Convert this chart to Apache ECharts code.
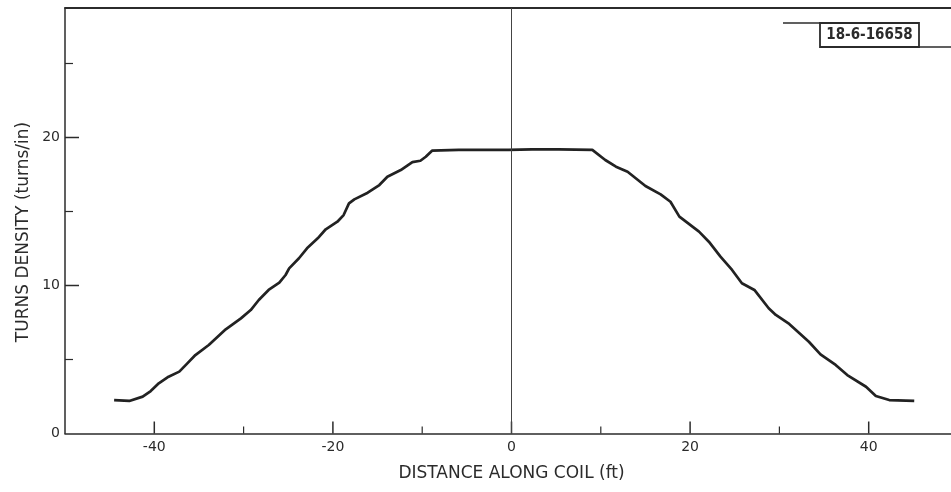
<!DOCTYPE html>
<html>
<head>
<meta charset="utf-8">
<script src="https://cdn.jsdelivr.net/npm/echarts@6/dist/echarts.min.js"></script>
<style>
html,body{margin:0;padding:0;background:#fff;}
#c{width:951px;height:492px;}
</style>
</head>
<body>
<div id="c"></div>
<script>
const distance = [-44.5,-42.8,-41.3,-40.4,-39.5,-38.4,-37.2,-36.3,-35.4,-33.9,-32.0,-30.3,-29.2,-28.3,-27.2,-26.0,-25.3,-24.9,-23.8,-22.9,-21.7,-20.8,-19.5,-18.8,-18.2,-17.6,-16.1,-14.8,-13.9,-12.4,-11.1,-10.2,-9.6,-8.9,-5.9,-0.3,2.3,5.3,9.05,10.5,11.7,13.0,15.0,16.7,17.8,18.8,21.0,22.1,23.4,24.7,25.8,27.2,28.8,29.6,31.1,33.3,34.6,36.3,37.6,39.7,40.8,42.3,45.1];
const density = [2.26,2.2,2.49,2.87,3.39,3.84,4.18,4.74,5.30,5.98,7.04,7.78,8.34,9.02,9.70,10.19,10.71,11.16,11.84,12.51,13.19,13.80,14.31,14.76,15.55,15.82,16.27,16.79,17.35,17.80,18.34,18.43,18.70,19.11,19.16,19.16,19.2,19.2,19.16,18.48,18.03,17.69,16.72,16.16,15.66,14.65,13.64,12.96,11.95,11.05,10.15,9.70,8.46,8.01,7.40,6.20,5.35,4.63,3.95,3.16,2.53,2.26,2.20];
const xLabels = [-40,-20,0,20,40];
const xMajorTicks = [-40,-20,0,20,40];
const xMinorTicks = [-30,-10,10,30];
const yLabels = [0,10,20];
const yMajorTicks = [10,20];
const yMinorTicks = [5,15,25];
const xName = 'DISTANCE ALONG COIL (ft)';
const yName = 'TURNS DENSITY (turns/in)';
const figureId = '18-6-16658';

const X_MIN = -50, X_MAX = 50, Y_MIN = 0, Y_MAX = 28.75;
const ink = '#2b2b2b';
const font = 'DejaVu Sans';
const chart = echarts.init(document.getElementById('c'), null, {renderer: 'canvas'});
const points = distance.map((d, i) => [d, density[i]]);

function xTicks(values, len, width) {
  return {
    type: 'custom', silent: true, clip: false, z: 3,
    data: values.map(v => [v, Y_MIN]),
    encode: {x: 0, y: 1},
    renderItem: function (params, api) {
      const p = api.coord([api.value(0), api.value(1)]);
      return {type: 'line', shape: {x1: p[0], y1: p[1], x2: p[0], y2: p[1] - len},
              style: {stroke: ink, lineWidth: width}};
    }
  };
}
function yTicks(values, len, width) {
  return {
    type: 'custom', silent: true, clip: false, z: 3,
    data: values.map(v => [X_MIN, v]),
    encode: {x: 0, y: 1},
    renderItem: function (params, api) {
      const p = api.coord([api.value(0), api.value(1)]);
      return {type: 'line', shape: {x1: p[0], y1: p[1], x2: p[0] + len, y2: p[1]},
              style: {stroke: ink, lineWidth: width}};
    }
  };
}

chart.setOption({
  animation: false,
  backgroundColor: '#fff',
  grid: {left: 65, right: -7, top: 8, bottom: 58.5, outerBoundsMode: 'none', containLabel: false},
  xAxis: [
    {
      type: 'value', min: X_MIN, max: X_MAX, interval: 10, position: 'bottom',
      name: xName, nameLocation: 'middle', nameGap: 32,
      nameTextStyle: {fontFamily: font, fontSize: 17, color: ink},
      axisLine: {show: true, onZero: false, lineStyle: {color: ink, width: 1.5}},
      axisTick: {show: false},
      axisLabel: {show: true, margin: 7, fontFamily: font, fontSize: 14, color: ink,
                  formatter: v => (xLabels.indexOf(v) >= 0 ? String(v) : '')},
      splitLine: {show: false}
    },
    {
      type: 'value', min: X_MIN, max: X_MAX, position: 'top',
      axisLine: {show: true, onZero: false, lineStyle: {color: ink, width: 1.8}},
      axisTick: {show: false}, axisLabel: {show: false}, splitLine: {show: false}
    }
  ],
  yAxis: [
    {
      type: 'value', min: Y_MIN, max: Y_MAX, interval: 5, position: 'left',
      axisLine: {show: true, onZero: false, lineStyle: {color: ink, width: 1.5}},
      axisTick: {show: false},
      axisLabel: {show: true, margin: 5, fontFamily: font, fontSize: 14, color: ink,
                  formatter: v => (yLabels.indexOf(v) >= 0 ? String(v) : '')},
      splitLine: {show: false}
    }
  ],
  graphic: [
    {type: 'text', x: 24, y: 232, rotation: Math.PI / 2,
     style: {text: yName, fontFamily: font, fontSize: 17, fill: ink, align: 'center', verticalAlign: 'middle'}},
    {type: 'line', shape: {x1: 783, y1: 23, x2: 820, y2: 23}, style: {stroke: ink, lineWidth: 1.5}},
    {type: 'rect', shape: {x: 820, y: 23, width: 99, height: 24}, style: {stroke: ink, lineWidth: 1.8, fill: 'none'}},
    {type: 'line', shape: {x1: 919, y1: 47, x2: 951, y2: 47}, style: {stroke: ink, lineWidth: 1.5}},
    {type: 'text', x: 869.5, y: 35.5,
     style: {text: figureId, fontFamily: 'DejaVu Sans Condensed', fontWeight: 'bold', fontSize: 15, fill: ink, align: 'center', verticalAlign: 'middle'}}
  ],
  series: [
    {
      type: 'line', xAxisIndex: 0, yAxisIndex: 0,
      data: points, showSymbol: false, symbol: 'none', smooth: false,
      lineStyle: {color: '#222', width: 2.7},
      markLine: {
        silent: true, symbol: ['none', 'none'], label: {show: false},
        lineStyle: {color: '#444', width: 1, type: 'solid'},
        data: [{xAxis: 0}]
      }
    },
    xTicks(xMajorTicks, 12, 1.5),
    xTicks(xMinorTicks, 7, 1.2),
    yTicks(yMajorTicks, 14, 1.5),
    yTicks(yMinorTicks, 8, 1.2)
  ]
});
</script>
</body>
</html>
